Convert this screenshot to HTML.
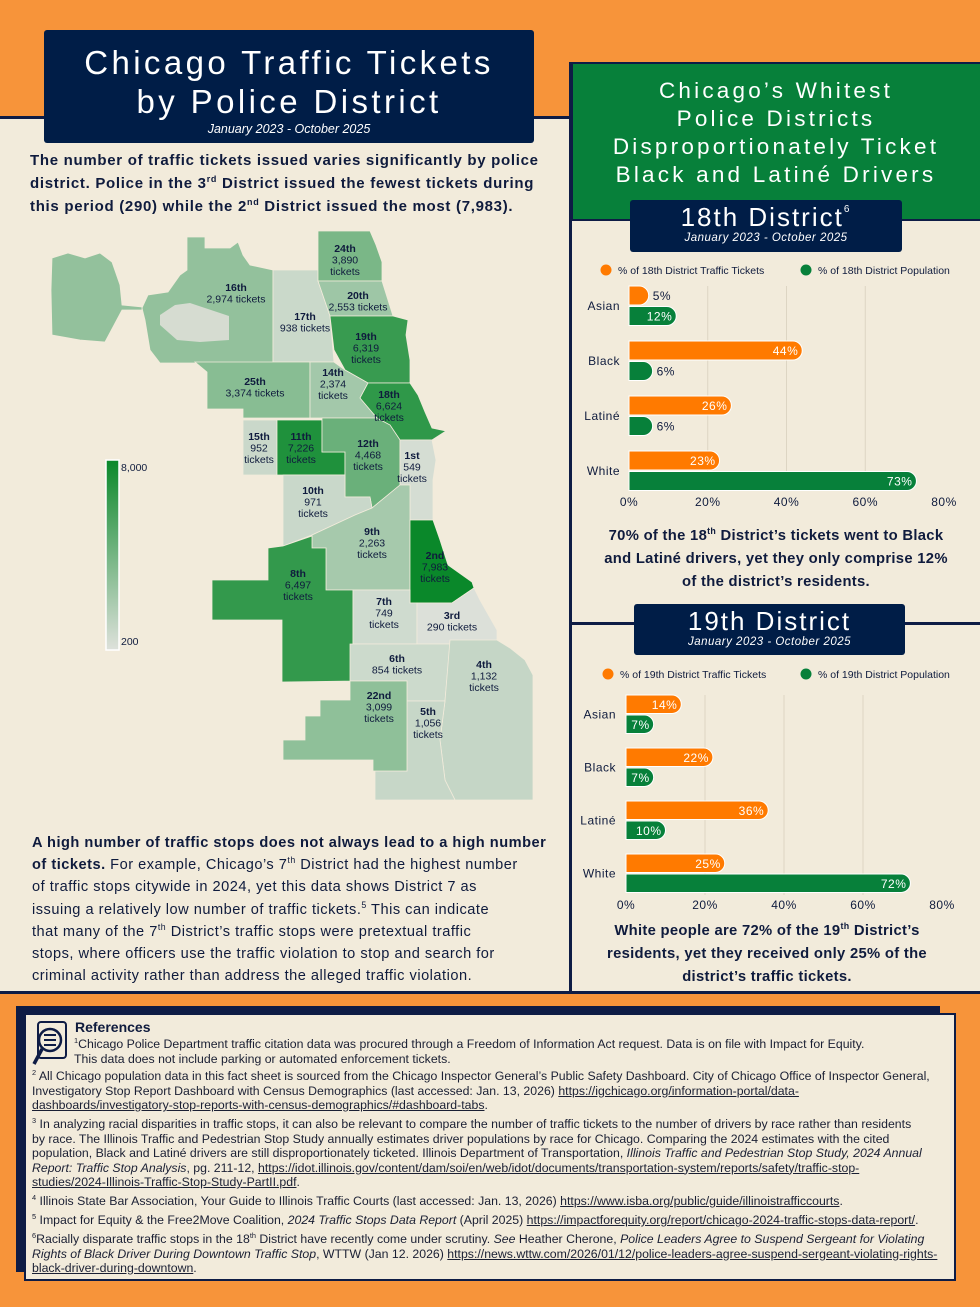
<!DOCTYPE html>
<html><head><meta charset="utf-8">
<style>
*{margin:0;padding:0;box-sizing:border-box}
body{width:980px;height:1307px;position:relative;overflow:hidden;background:#F7943A;font-family:"Liberation Sans",sans-serif;color:#0F1B3D}
.abs{position:absolute}
.nw{white-space:nowrap}
sup{font-size:60%;line-height:0}
.ref{position:absolute;left:32px;white-space:nowrap;font-family:"Liberation Sans Narrow","Liberation Sans",sans-serif;font-size:12.3px;color:#1A1F33;line-height:14.5px}
.ref a{color:#1A1F33;text-decoration:underline}
</style></head>
<body>
<div class="abs" style="left:0;top:116px;width:980px;height:878px;background:#F2EBDB;border-top:3px solid #0E1C45;border-bottom:3px solid #0E1C45"></div>
<div class="abs" style="left:569px;top:62px;width:3px;height:931px;background:#0E1C45"></div>
<div class="abs" style="left:570px;top:62px;width:410px;height:159px;background:#07803A;border-top:2px solid #0E1C45;border-left:3px solid #0E1C45;border-bottom:2px solid #0E1C45"></div>
<div class="abs" style="left:572px;top:622px;width:408px;height:3px;background:#0E1C45"></div>

<div class="abs" style="left:44px;top:30px;width:490px;height:113px;background:#001D47;border-radius:3px;text-align:center;color:#fff">
  <div style="font-size:33px;letter-spacing:3.4px;line-height:39px;padding-top:13px">Chicago Traffic Tickets<br>by Police District</div>
  <div style="font-size:12.5px;font-style:italic;margin-top:1px">January 2023 - October 2025</div>
</div>
<div class="abs nw" style="left:30px;top:149px;font-size:15px;font-weight:bold;line-height:23px;letter-spacing:0.7px">The number of traffic tickets issued varies significantly by police<br>district. Police in the 3<sup>rd</sup> District issued the fewest tickets during<br>this period (290) while the 2<sup>nd</sup> District issued the most (7,983).</div>

<div class="abs" style="left:572px;top:77px;width:408px;text-align:center;color:#fff;font-size:22.5px;letter-spacing:3.2px;line-height:28px">Chicago’s Whitest<br>Police Districts<br>Disproportionately Ticket<br>Black and Latiné Drivers</div>

<div class="abs" style="left:630px;top:200px;width:272px;height:52px;background:#001D47;border-radius:3px;color:#fff;text-align:center">
  <div style="font-size:26px;letter-spacing:2px;line-height:29px;padding-top:3px">18th District<sup style="font-size:10px;vertical-align:14px">6</sup></div>
  <div style="font-size:11.5px;font-style:italic;letter-spacing:0.5px">January 2023 - October 2025</div>
</div>
<div class="abs" style="left:634px;top:604px;width:271px;height:51px;background:#001D47;border-radius:3px;color:#fff;text-align:center">
  <div style="font-size:26px;letter-spacing:2px;line-height:29px;padding-top:3px">19th District</div>
  <div style="font-size:11.5px;font-style:italic;letter-spacing:0.5px">January 2023 - October 2025</div>
</div>

<div class="abs" style="left:572px;top:525px;width:408px;text-align:center;font-size:14.8px;font-weight:bold;line-height:23px;letter-spacing:0.3px">70% of the 18<sup>th</sup> District’s tickets went to Black<br>and Latiné drivers, yet they only comprise 12%<br>of the district’s residents.</div>
<div class="abs" style="left:572px;top:920px;width:390px;text-align:center;font-size:14.8px;font-weight:bold;line-height:23px;letter-spacing:0.3px">White people are 72% of the 19<sup>th</sup> District’s<br>residents, yet they received only 25% of the<br>district’s traffic tickets.</div>

<div class="abs nw" style="left:32px;top:832px;font-size:14.6px;line-height:22.2px;letter-spacing:0.5px"><b>A high number of traffic stops does not always lead to a high number<br>of tickets.</b> For example, Chicago’s 7<sup>th</sup> District had the highest number<br>of traffic stops citywide in 2024, yet this data shows District 7 as<br>issuing a relatively low number of traffic tickets.<sup>5</sup> This can indicate<br>that many of the 7<sup>th</sup> District’s traffic stops were pretextual traffic<br>stops, where officers use the traffic violation to stop and search for<br>criminal activity rather than address the alleged traffic violation.</div>

<svg class="abs" style="left:0;top:0" width="570" height="820" id="map"></svg>

<svg class="abs" style="left:570px;top:255px" width="410" height="265" id="c18"></svg>
<svg class="abs" style="left:570px;top:660px" width="410" height="260" id="c19"></svg>

<div class="abs" style="left:16px;top:1006px;width:924px;height:266px;background:#0E1C45"></div>
<div class="abs" style="left:24px;top:1013px;width:932px;height:268px;background:#F2EBDB;border:2px solid #0E1C45"></div>
<svg class="abs" style="left:32px;top:1020px" width="40" height="56">
  <rect x="6" y="2" width="28" height="36" rx="3" fill="#F2EBDB" stroke="#0E1C45" stroke-width="2"/>
  <circle cx="18" cy="20" r="11" fill="#F2EBDB" stroke="#0E1C45" stroke-width="2.5"/>
  <line x1="12" y1="15" x2="24" y2="15" stroke="#0E1C45" stroke-width="2"/>
  <line x1="12" y1="20" x2="24" y2="20" stroke="#0E1C45" stroke-width="2"/>
  <line x1="12" y1="25" x2="24" y2="25" stroke="#0E1C45" stroke-width="2"/>
  <line x1="10" y1="29" x2="2" y2="44" stroke="#0E1C45" stroke-width="3.5"/>
</svg>
<div class="abs" style="left:75px;top:1019px;font-size:14px;font-weight:bold">References</div>
<div class="ref" style="left:74px;top:1037px"><sup>1</sup>Chicago Police Department traffic citation data was procured through a Freedom of Information Act request. Data is on file with Impact for Equity.<br>This data does not include parking or automated enforcement tickets.</div>
<div class="ref" style="top:1069px"><sup>2</sup> All Chicago population data in this fact sheet is sourced from the Chicago Inspector General’s Public Safety Dashboard. City of Chicago Office of Inspector General,<br>Investigatory Stop Report Dashboard with Census Demographics (last accessed: Jan. 13, 2026) <a>https://igchicago.org/information-portal/data-<br>dashboards/investigatory-stop-reports-with-census-demographics/#dashboard-tabs</a>.</div>
<div class="ref" style="top:1117px"><sup>3</sup> In analyzing racial disparities in traffic stops, it can also be relevant to compare the number of traffic tickets to the number of drivers by race rather than residents<br>by race. The Illinois Traffic and Pedestrian Stop Study annually estimates driver populations by race for Chicago. Comparing the 2024 estimates with the cited<br>population, Black and Latiné drivers are still disproportionately ticketed. Illinois Department of Transportation, <i>Illinois Traffic and Pedestrian Stop Study, 2024 Annual<br>Report: Traffic Stop Analysis</i>, pg. 211-12, <a>https://idot.illinois.gov/content/dam/soi/en/web/idot/documents/transportation-system/reports/safety/traffic-stop-<br>studies/2024-Illinois-Traffic-Stop-Study-PartII.pdf</a>.</div>
<div class="ref" style="top:1194px"><sup>4</sup> Illinois State Bar Association, Your Guide to Illinois Traffic Courts (last accessed: Jan. 13, 2026) <a>https://www.isba.org/public/guide/illinoistrafficcourts</a>.</div>
<div class="ref" style="top:1213px"><sup>5</sup> Impact for Equity &amp; the Free2Move Coalition, <i>2024 Traffic Stops Data Report</i> (April 2025) <a>https://impactforequity.org/report/chicago-2024-traffic-stops-data-report/</a>.</div>
<div class="ref" style="top:1232px"><sup>6</sup>Racially disparate traffic stops in the 18<sup>th</sup> District have recently come under scrutiny. <i>See</i> Heather Cherone, <i>Police Leaders Agree to Suspend Sergeant for Violating<br>Rights of Black Driver During Downtown Traffic Stop</i>, WTTW (Jan 12. 2026) <a>https://news.wttw.com/2026/01/12/police-leaders-agree-suspend-sergeant-violating-rights-<br>black-driver-during-downtown</a>.</div>

<script>
const districtNames = ["16th","17th","24th","20th","19th","25th","14th","18th","15th","11th","12th","1st","10th","9th","2nd","8th","7th","3rd","6th","4th","5th","22nd"];
const districtTickets = [2974,938,3890,2553,6319,3374,2374,6624,952,7226,4468,549,971,2263,7983,6497,749,290,854,1132,1056,3099];
const scaleMin = 200, scaleMax = 8000;
const scaleLabels = ["8,000","200"];

const shapes = {
 "16th":[[142,308],[148,295],[168,292],[180,275],[187,270],[187,237],[205,237],[205,248],[230,248],[238,242],[243,255],[250,265],[273,270],[273,363],[160,363],[150,350],[145,320]],
 "16thB":[[52,258],[68,253],[85,258],[100,253],[112,262],[120,285],[122,305],[142,307],[142,310],[122,310],[105,342],[80,340],[52,335],[51,290]],
 "17th":[[273,270],[318,270],[318,281],[330,316],[334,362],[273,362]],
 "24th":[[318,231],[370,231],[376,245],[382,262],[382,281],[318,281]],
 "20th":[[318,281],[382,281],[393,316],[330,316]],
 "19th":[[330,316],[393,316],[408,320],[406,335],[410,360],[410,383],[368,383],[345,370],[334,350]],
 "25th":[[195,362],[310,362],[310,418],[243,418],[243,409],[207,409],[207,372]],
 "14th":[[310,362],[334,362],[345,370],[368,383],[360,398],[377,418],[310,418]],
 "18th":[[368,383],[410,383],[418,395],[425,412],[432,428],[446,431],[432,440],[400,440],[390,425],[377,418],[360,398]],
 "15th":[[243,420],[277,420],[277,475],[243,475]],
 "11th":[[277,420],[322,420],[322,452],[345,452],[345,475],[277,475]],
 "12th":[[322,418],[377,418],[390,425],[400,440],[400,485],[372,508],[370,497],[345,497],[345,452],[322,452]],
 "1st":[[400,440],[432,440],[436,460],[433,480],[433,520],[410,520],[410,485],[400,485]],
 "10th":[[283,475],[345,475],[345,497],[370,497],[372,508],[355,515],[312,535],[283,546]],
 "9th":[[312,535],[355,515],[372,508],[400,485],[410,485],[410,590],[326,590],[326,548],[312,548]],
 "2nd":[[410,520],[433,520],[440,540],[448,565],[472,582],[474,588],[452,603],[410,603]],
 "8th":[[212,580],[268,580],[268,548],[283,546],[312,536],[312,548],[326,548],[326,590],[353,590],[353,681],[282,682],[282,620],[212,620]],
 "7th":[[353,590],[410,590],[410,603],[417,603],[417,644],[353,644]],
 "3rd":[[417,603],[452,603],[474,588],[480,600],[497,630],[497,644],[417,644]],
 "6th":[[350,644],[450,644],[445,701],[407,701],[407,681],[350,681]],
 "4th":[[450,640],[497,640],[510,648],[525,660],[533,675],[533,800],[455,800],[445,780],[440,740],[445,701]],
 "5th":[[407,701],[445,701],[440,740],[445,780],[455,800],[375,800],[375,771],[407,771]],
 "22nd":[[350,681],[407,681],[407,771],[373,771],[373,760],[283,760],[283,740],[305,740],[305,716],[320,716],[320,700],[350,700]]
};
const labelPos = {"16th":[236,291,2],"17th":[305,320,2],"24th":[345,252,3],"20th":[358,299,2],"19th":[366,340,3],"25th":[255,385,2],"14th":[333,376,3],"18th":[389,398,3],"15th":[259,440,3],"11th":[301,440,3],"12th":[368,447,3],"1st":[412,459,3],"10th":[313,494,3],"9th":[372,535,3],"2nd":[435,559,3],"8th":[298,577,3],"7th":[384,605,3],"3rd":[452,619,2],"6th":[397,662,2],"4th":[484,668,3],"5th":[428,715,3],"22nd":[379,699,3]};

const NS="http://www.w3.org/2000/svg";
function colorFor(v){
  const t=Math.max(0,Math.min(1,(v-scaleMin)/(scaleMax-scaleMin)));
  const a=[222,225,219], b=[10,136,42];
  return "rgb("+a.map((c,i)=>Math.round(c+(b[i]-c)*t)).join(",")+")";
}
function fmt(n){return n.toLocaleString("en-US");}
const map=document.getElementById("map");
districtNames.forEach((d,i)=>{
  const keys=d==="16th"?["16th","16thB"]:[d];
  keys.forEach(k=>{
    const p=document.createElementNS(NS,"polygon");
    p.setAttribute("points",shapes[k].map(q=>q.join(",")).join(" "));
    p.setAttribute("fill",colorFor(districtTickets[i]));
    p.setAttribute("stroke","#F2EBDB");p.setAttribute("stroke-width","0.8");
    
    
    map.appendChild(p);
  });
});
const enc=document.createElementNS(NS,"polygon");
enc.setAttribute("points","160,315 175,305 190,303 229,316 229,340 200,342 177,340 160,325");
enc.setAttribute("fill","#D6DCD1");


map.appendChild(enc);
districtNames.forEach((d,i)=>{
  const [x,y,n]=labelPos[d];
  const v=fmt(districtTickets[i]);
  const lines=n===2?[d,v+" tickets"]:[d,v,"tickets"];
  const t=document.createElementNS(NS,"text");
  t.setAttribute("x",x);t.setAttribute("y",y);t.setAttribute("text-anchor","middle");
  t.setAttribute("font-size","10.5");t.setAttribute("fill","#0F1B3D");
  
  
  lines.forEach((l,j)=>{
    const s=document.createElementNS(NS,"tspan");
    s.setAttribute("x",x);s.setAttribute("dy",j?11.5:0);
    if(j===0)s.setAttribute("font-weight","bold");
    s.textContent=l;t.appendChild(s);
  });
  map.appendChild(t);
});
map.insertAdjacentHTML("beforeend",'<defs><linearGradient id="lg" x1="0" y1="0" x2="0" y2="1"><stop offset="0" stop-color="'+colorFor(scaleMax)+'"/><stop offset="1" stop-color="'+colorFor(scaleMin)+'"/></linearGradient></defs><rect x="106" y="460" width="13" height="190" fill="url(#lg)" stroke="#fff" stroke-width="1.5"/><text x="121" y="471" font-size="10.5" fill="#0F1B3D">'+scaleLabels[0]+'</text><text x="121" y="645" font-size="10.5" fill="#0F1B3D">'+scaleLabels[1]+'</text>');

const categories = ["Asian","Black","Latiné","White"];
const tickets18 = [5,44,26,23];
const population18 = [12,6,6,73];
const tickets19 = [14,22,36,25];
const population19 = [7,7,10,72];
const tickValues = [0,20,40,60,80];
const tickLabels = ["0%","20%","40%","60%","80%"];

function drawChart(id, dist, tickets, pop, cfg){
  const svg=document.getElementById(id);
  const xs=v=>cfg.x0+v*(cfg.x1-cfg.x0)/80;
  let h="";
  h+='<circle cx="'+cfg.lx1+'" cy="'+cfg.ly+'" r="5.5" fill="#FF7A00"/>';
  h+='<text x="'+(cfg.lx1+12)+'" y="'+(cfg.ly+4)+'" font-size="10.5" fill="#0F1B3D">% of '+dist+' District Traffic Tickets</text>';
  h+='<circle cx="'+cfg.lx2+'" cy="'+cfg.ly+'" r="5.5" fill="#07803A"/>';
  h+='<text x="'+(cfg.lx2+12)+'" y="'+(cfg.ly+4)+'" font-size="10.5" fill="#0F1B3D">% of '+dist+' District Population</text>';
  tickValues.forEach((v,i)=>{
    if(v>0&&v<80) h+='<line x1="'+xs(v)+'" x2="'+xs(v)+'" y1="'+cfg.gTop+'" y2="'+cfg.gBot+'" stroke="#DDD5C3" stroke-width="1"/>';
    h+='<text x="'+xs(v)+'" y="'+cfg.tickY+'" text-anchor="middle" font-size="12" fill="#0F1B3D" letter-spacing="0.5">'+tickLabels[i]+'</text>';
  });
  const bh=cfg.bh;
  function bar(v,y,col,name){
    const x0=xs(0),x1=xs(v),r=bh/2;
    let s='<path d="M'+x0+' '+y+'H'+(x1-r)+'A'+r+' '+r+' 0 0 1 '+(x1-r)+' '+(y+bh)+'H'+x0+'Z" fill="'+col+'" stroke="#fff" stroke-width="1"/>';
    const inside=v>=7;
    s+='<text x="'+(inside?x1-4:x1+4)+'" y="'+(y+bh/2+4.5)+'" text-anchor="'+(inside?"end":"start")+'" font-size="12" fill="'+(inside?"#fff":"#0F1B3D")+'" letter-spacing="0.5">'+v+'%</text>';
    return s;
  }
  categories.forEach((c,i)=>{
    const y=cfg.y0+i*cfg.pitch;
    h+=bar(tickets[i],y,"#FF7A00","tickets-bar-"+c.toLowerCase());
    h+=bar(pop[i],y+bh+1.5,"#07803A","population-bar-"+c.toLowerCase());
    h+='<text x="'+cfg.labelX+'" y="'+(y+bh+5)+'" text-anchor="end" font-size="12" fill="#0F1B3D" letter-spacing="0.5">'+c+'</text>';
  });
  svg.innerHTML=h;
}
drawChart("c18","18th",tickets18,population18,{x0:59,x1:374,y0:31,pitch:55,bh:19,gTop:31,gBot:235,tickY:251,labelX:50,lx1:36,lx2:236,ly:15});
drawChart("c19","19th",tickets19,population19,{x0:56,x1:372,y0:35,pitch:53,bh:18.5,gTop:35,gBot:235,tickY:249,labelX:46,lx1:38,lx2:236,ly:14});
</script>
</body></html>
